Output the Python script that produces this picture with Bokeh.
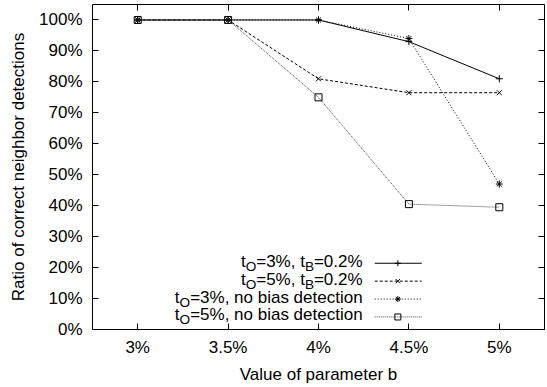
from bokeh.plotting import figure
from bokeh.models import FixedTicker, LinearAxis, Label
from bokeh.embed import file_html
from bokeh.resources import INLINE

# ---- data ----
b_values = [3.0, 3.5, 4.0, 4.5, 5.0]
x_tick_labels = ["3%", "3.5%", "4%", "4.5%", "5%"]
y_ticks = [0, 10, 20, 30, 40, 50, 60, 70, 80, 90, 100]
y_tick_labels = ["0%", "10%", "20%", "30%", "40%", "50%", "60%", "70%", "80%", "90%", "100%"]

s1_to3_tb02 = [100, 100, 100, 93, 81]
s2_to5_tb02 = [100, 100, 81, 76.5, 76.5]
s3_to3_nobias = [100, 100, 100, 94, 47]
s4_to5_nobias = [100, 100, 75, 40.5, 39.5]

legend_rows = [
    [("t", False), ("O", True), ("=3%, t", False), ("B", True), ("=0.2%", False)],
    [("t", False), ("O", True), ("=5%, t", False), ("B", True), ("=0.2%", False)],
    [("t", False), ("O", True), ("=3%, no bias detection", False)],
    [("t", False), ("O", True), ("=5%, no bias detection", False)],
]

FONT = "Liberation Sans"
FS = 17.0
SUB_FS = 13.6
SUB_SHIFT = 5

p = figure(width=547, height=387, x_range=(2.75, 5.25), y_range=(0, 105),
           output_backend="svg", toolbar_location=None,
           min_border_left=92, min_border_right=3, min_border_top=4, min_border_bottom=58)
p.background_fill_color = "white"
p.border_fill_color = "white"
p.outline_line_color = "black"
p.outline_line_width = 1
p.grid.visible = False

p.xaxis.ticker = FixedTicker(ticks=b_values)
p.yaxis.ticker = FixedTicker(ticks=y_ticks)
p.xaxis.major_label_overrides = {v: l for v, l in zip(b_values, x_tick_labels)}
p.yaxis.major_label_overrides = {v: l for v, l in zip(y_ticks, y_tick_labels)}
p.xaxis.axis_label = "Value of parameter b"
p.yaxis.axis_label = "Ratio of correct neighbor detections"

for ax in (p.xaxis[0], p.yaxis[0]):
    ax.axis_line_color = None
    ax.major_tick_in = 6
    ax.major_tick_out = 0
    ax.minor_tick_line_color = None
    ax.major_tick_line_color = "black"
    ax.major_label_text_font = FONT
    ax.major_label_text_font_size = "17px"
    ax.major_label_text_color = "black"
    ax.axis_label_text_font = FONT
    ax.axis_label_text_font_size = "17px"
    ax.axis_label_text_font_style = "normal"
    ax.axis_label_text_color = "black"
p.yaxis.major_label_standoff = 10
p.xaxis.major_label_standoff = 8
p.xaxis.axis_label_standoff = 5
p.yaxis.axis_label_standoff = 8

top = LinearAxis(ticker=FixedTicker(ticks=b_values))
top.major_label_overrides = {v: "" for v in b_values}
right = LinearAxis(ticker=FixedTicker(ticks=y_ticks))
right.major_label_overrides = {v: "" for v in y_ticks}
for ax in (top, right):
    ax.axis_line_color = None
    ax.major_tick_in = 6
    ax.major_tick_out = 0
    ax.minor_tick_line_color = None
    ax.major_label_standoff = 0
p.add_layout(top, "above")
p.add_layout(right, "right")

series = [
    (s1_to3_tb02, "solid", "cross", "black"),
    (s2_to5_tb02, "3 2", "x", "black"),
    (s3_to3_nobias, "1 2", "asterisk", "black"),
    (s4_to5_nobias, "1 1", "square", "#444444"),
]
for vals, dash, marker, col in series:
    p.line(b_values, vals, line_color=col, line_width=1, line_dash=dash)
    p.scatter(b_values, vals, marker=marker, size=7, line_color="black",
              fill_color=None, line_width=1)

# ---- legend (drawn manually: text left of line sample) ----
px_per_y = 325 / 105.0
leg_text_right = 4.244
leg_line_x0 = 4.311
leg_line_x1 = 4.571
leg_mark_x = 4.439
leg_row0_y = 21.4
leg_row_step = 17.9 / px_per_y
TEXT_SHIFT = 2

W = {'t': 278, 'O': 778, 'B': 667, '=': 584, '0': 556, '2': 556, '3': 556, '5': 556,
     '%': 889, ',': 278, ' ': 278, '.': 278, 'n': 556, 'o': 556, 'b': 556, 'i': 222,
     'a': 556, 's': 500, 'd': 556, 'e': 556, 'c': 500}

def tw(s, fs):
    return sum(W.get(ch, 556) for ch in s) / 1000.0 * fs

for i, row in enumerate(legend_rows):
    y = leg_row0_y - i * leg_row_step
    off = 0.0
    for txt, sub in reversed(row):
        fs = SUB_FS if sub else FS
        p.add_layout(Label(x=leg_text_right, y=y, x_offset=-off,
                           y_offset=(-SUB_SHIFT if sub else 0) + TEXT_SHIFT,
                           text=txt, text_align="right", text_baseline="alphabetic",
                           text_font=FONT, text_font_size=f"{fs}px", text_color="black"))
        off += tw(txt, fs)
    vals, dash, marker, col = series[i]
    p.line([leg_line_x0, leg_line_x1], [y, y], line_color=col, line_width=1, line_dash=dash)
    p.scatter([leg_mark_x], [y], marker=marker, size=6, line_color="black",
              fill_color=None, line_width=1)

open("out.html", "w").write(file_html(p, INLINE))
